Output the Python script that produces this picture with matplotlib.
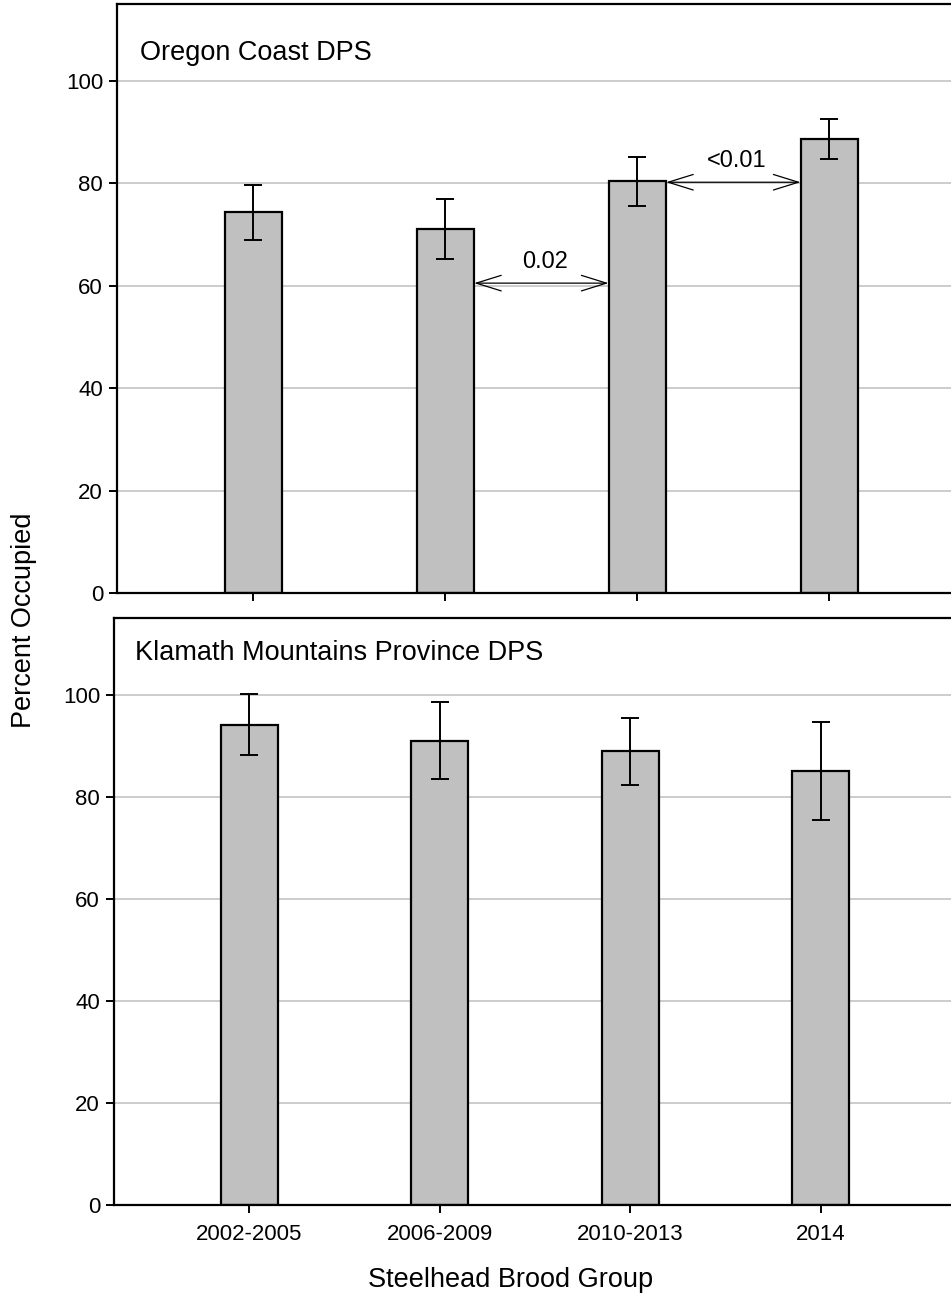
import matplotlib
matplotlib.use("Agg")
import matplotlib.pyplot as plt
import numpy as np

plt.rcParams['font.family'] = ['Liberation Sans', 'DejaVu Sans']

groups = ["2002-2005", "2006-2009", "2010-2013", "2014"]
panel_titles = ["Oregon Coast DPS", "Klamath Mountains Province DPS"]

oc_mean = [74.4, 71.0, 80.5, 88.7]
oc_low = [69.0, 65.3, 75.5, 84.7]
oc_high = [79.7, 76.9, 85.2, 92.6]

kmp_mean = [94.1, 91.0, 89.0, 85.0]
kmp_low = [88.2, 83.5, 82.3, 75.5]
kmp_high = [100.1, 98.5, 95.5, 94.6]

# pairwise comparisons in Oregon Coast panel: (from bar, to bar, arrow y, label)
comp_from = [1, 2]
comp_to = [2, 3]
comp_y = [60.5, 80.2]
comp_label = ["0.02", "<0.01"]

yticks = [0, 20, 40, 60, 80, 100]
ylabel = "Percent Occupied"
xlabel = "Steelhead Brood Group"

W, H = 951, 1297
fig = plt.figure(figsize=(W / 100, H / 100), dpi=100)

bar_w = 0.3
xlim = (-0.71, 3.71)

def px_axes(left, right, top, bottom):
    return [left / W, 1 - bottom / H, (right - left) / W, (bottom - top) / H]

ax1 = fig.add_axes(px_axes(117, 117 + 4.42 * 192, 4, 593))
ax2 = fig.add_axes(px_axes(114, 114 + 4.42 * 190.5, 618, 1205))

panels = [(ax1, oc_mean, oc_low, oc_high), (ax2, kmp_mean, kmp_low, kmp_high)]
x = np.arange(len(groups))
for i, (ax, m, lo, hi) in enumerate(panels):
    m = np.array(m); lo = np.array(lo); hi = np.array(hi)
    ax.set_axisbelow(True)
    ax.bar(x, m, width=bar_w, color='#c0c0c0', edgecolor='black', linewidth=1.6, zorder=2)
    ax.errorbar(x, m, yerr=[m - lo, hi - m], fmt='none', ecolor='black',
                elinewidth=1.4, capsize=6.5, capthick=1.4, zorder=3)
    ax.set_xlim(*xlim)
    ax.set_ylim(0, 115)
    ax.set_yticks(yticks)
    ax.set_xticks(x)
    ax.yaxis.grid(True, color='#c8c8c8', linewidth=1.3)
    ax.tick_params(axis='both', direction='out', length=6, width=1.4,
                   labelsize=16, pad=4)
    for s in ['left', 'top', 'bottom', 'right']:
        ax.spines[s].set_linewidth(1.6)
    ax.text(0.027 if i == 0 else 0.025, 0.905 if i == 0 else 0.928, panel_titles[i],
            transform=ax.transAxes, fontsize=19.5, va='baseline', ha='left')

ax1.set_xticklabels([])
ax2.set_xticklabels(groups)
ax2.tick_params(axis='x', pad=8)

for a, b, yv, lab in zip(comp_from, comp_to, comp_y, comp_label):
    ax1.annotate('', xy=(b - bar_w / 2, yv), xytext=(a + bar_w / 2, yv),
                 arrowprops=dict(arrowstyle='<->,head_length=0.9,head_width=0.28',
                                 mutation_scale=20, lw=0.9, color='black',
                                 shrinkA=0, shrinkB=0), zorder=4)
    ax1.text((a + b) / 2 + 0.02, yv + 3.0, lab, fontsize=17, ha='center', va='baseline')

fig.text(511 / W, 1 - 1287 / H, xlabel, fontsize=19.5, ha='center', va='baseline')
fig.text(24 / W, 1 - 620 / H, ylabel, fontsize=19.5, ha='center', va='center', rotation=90)

fig.savefig('out.png', dpi=100)
